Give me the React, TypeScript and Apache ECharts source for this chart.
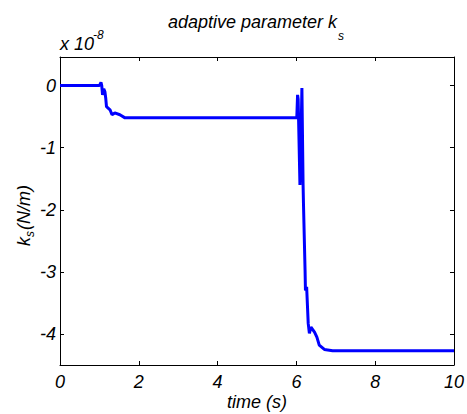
import React, { useEffect, useRef } from "react";
import * as echarts from "echarts";

// time (s)
const timeValues: number[] = [
  0, 1.0, 1.04, 1.06, 1.08, 1.11, 1.14, 1.16, 1.18, 1.27, 1.32, 1.39, 1.52, 1.65,
  6.01, 6.03, 6.045, 6.09, 6.11, 6.14, 6.17, 6.18, 6.22, 6.23, 6.26, 6.3, 6.33,
  6.37, 6.46, 6.52, 6.58, 6.71, 6.92, 10,
];
// k_s in units of 1e-8 N/m
const ksValues: number[] = [
  0, 0, 0.05, 0, -0.15, -0.05, -0.1, -0.2, -0.34, -0.39, -0.47, -0.44, -0.47, -0.52,
  -0.52, -0.15, -0.22, -1.6, -1.1, -0.04, -1.6, -1.91, -2.97, -3.3, -3.24, -3.83, -3.99,
  -3.89, -3.97, -4.05, -4.18, -4.25, -4.27, -4.27,
];
const xTicks: number[] = [0, 2, 4, 6, 8, 10];
const yTicks: number[] = [-4, -3, -2, -1, 0];

const FONT = "'Liberation Sans', Arial, sans-serif";

export default function App() {
  const ref = useRef<HTMLDivElement>(null);
  useEffect(() => {
    if (!ref.current) return;
    const chart = echarts.init(ref.current, null, { renderer: "svg" });
    const data = timeValues.map((t, i) => [t, ksValues[i]]);
    const axisCommon = {
      axisLine: { show: true, onZero: false, lineStyle: { color: "#000", width: 1 } },
      splitLine: { show: false },
    };
    const labelStyle = {
      color: "#000",
      fontSize: 18,
      fontStyle: "italic" as const,
      fontFamily: FONT,
    };
    chart.setOption({
      animation: false,
      backgroundColor: "#fff",
      grid: { left: 60, right: 12, top: 57, bottom: 49, containLabel: false },
      xAxis: [
        {
          type: "value",
          min: 0,
          max: 10,
          interval: 2,
          position: "bottom",
          ...axisCommon,
          axisTick: { show: true, inside: true, length: 4, lineStyle: { color: "#000" } },
          axisLabel: { ...labelStyle, margin: 8, customValues: xTicks },
        },
        {
          type: "value",
          min: 0,
          max: 10,
          interval: 2,
          position: "top",
          ...axisCommon,
          axisTick: { show: true, inside: true, length: 4, lineStyle: { color: "#000" } },
          axisLabel: { show: false },
        },
      ],
      yAxis: [
        {
          type: "value",
          min: -4.5,
          max: 0.46,
          position: "left",
          ...axisCommon,
          axisTick: {
            show: true,
            inside: true,
            length: 4,
            customValues: yTicks,
            lineStyle: { color: "#000" },
          },
          axisLabel: { ...labelStyle, margin: 4, customValues: yTicks },
        },
        {
          type: "value",
          min: -4.5,
          max: 0.46,
          position: "right",
          ...axisCommon,
          axisTick: {
            show: true,
            inside: true,
            length: 4,
            customValues: yTicks,
            lineStyle: { color: "#000" },
          },
          axisLabel: { show: false },
        },
      ],
      series: [
        {
          type: "line",
          data,
          xAxisIndex: 0,
          yAxisIndex: 0,
          showSymbol: false,
          symbol: "none",
          lineStyle: { color: "#0000ff", width: 3 },
          itemStyle: { color: "#0000ff" },
        },
      ],
      graphic: [
        {
          type: "text",
          x: 337,
          y: 22,
          style: {
            text: "adaptive parameter k",
            fill: "#000",
            font: `italic 18px ${FONT}`,
            align: "right",
            verticalAlign: "middle",
          },
        },
        {
          type: "text",
          x: 338,
          y: 36,
          style: {
            text: "s",
            fill: "#000",
            font: `italic 12px ${FONT}`,
            align: "left",
            verticalAlign: "middle",
          },
        },
        {
          type: "text",
          x: 60,
          y: 44,
          style: {
            text: "x 10",
            fill: "#000",
            font: `italic 18px ${FONT}`,
            align: "left",
            verticalAlign: "middle",
          },
        },
        {
          type: "text",
          x: 93,
          y: 35,
          style: {
            text: "-8",
            fill: "#000",
            font: `italic 12px ${FONT}`,
            align: "left",
            verticalAlign: "middle",
          },
        },
        {
          type: "text",
          x: 257,
          y: 402,
          style: {
            text: "time (s)",
            fill: "#000",
            font: `italic 18px ${FONT}`,
            align: "center",
            verticalAlign: "middle",
          },
        },
        {
          type: "group",
          x: 24,
          y: 213,
          rotation: Math.PI / 2,
          children: [
            {
              type: "text",
              x: -33,
              y: 0,
              style: {
                text: "k",
                fill: "#000",
                font: `italic 18px ${FONT}`,
                align: "left",
                verticalAlign: "middle",
              },
            },
            {
              type: "text",
              x: -24,
              y: 6,
              style: {
                text: "s",
                fill: "#000",
                font: `italic 12px ${FONT}`,
                align: "left",
                verticalAlign: "middle",
              },
            },
            {
              type: "text",
              x: -17,
              y: 0,
              style: {
                text: "(N/m)",
                fill: "#000",
                font: `italic 18px ${FONT}`,
                align: "left",
                verticalAlign: "middle",
              },
            },
          ],
        },
      ],
    });
    return () => chart.dispose();
  }, []);
  return (
    <div
      ref={ref}
      style={{ position: "fixed", left: 0, top: 0, width: 467, height: 414, overflow: "hidden" }}
    />
  );
}
